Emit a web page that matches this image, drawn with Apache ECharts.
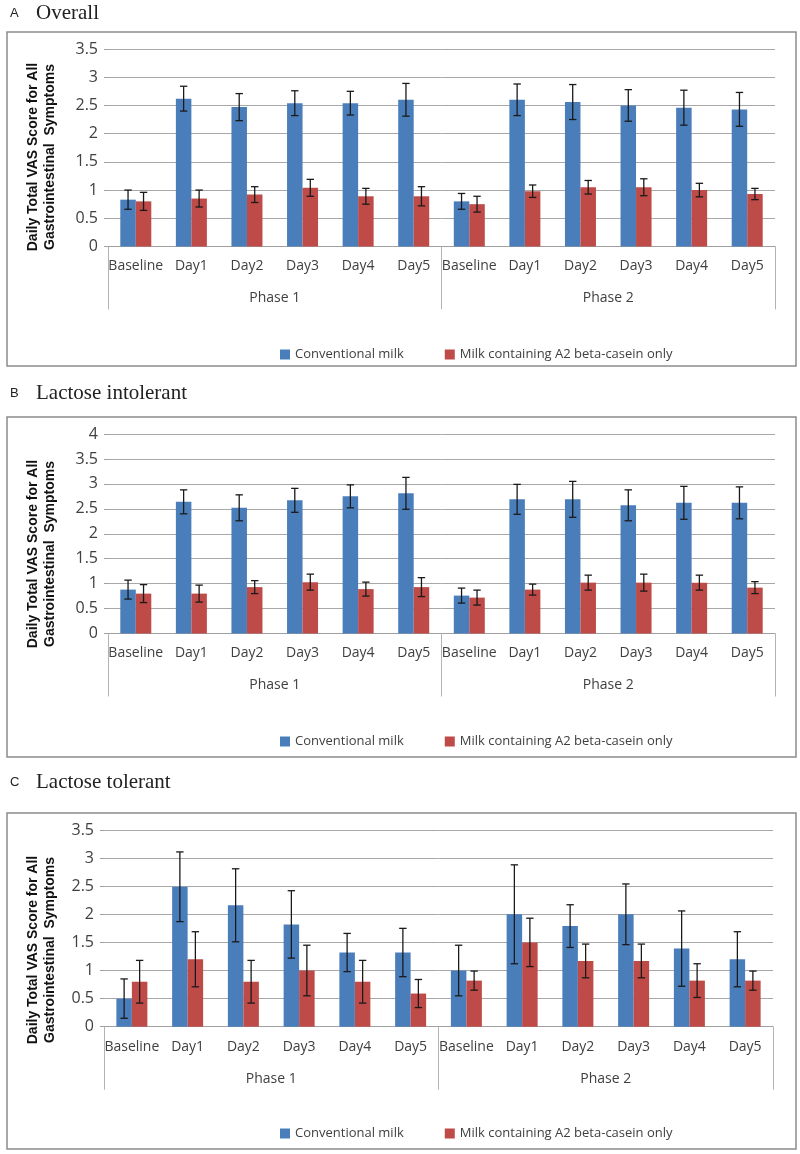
<!DOCTYPE html>
<html>
<head>
<meta charset="utf-8">
<script src="https://cdn.jsdelivr.net/npm/echarts@6/dist/echarts.min.js"></script>
<style>
  html, body { margin: 0; padding: 0; background: #ffffff; }
  #chart { width: 800px; height: 1154px; }
</style>
</head>
<body>
<div id="chart"></div>
<script>
// ---------- DATA ----------
const dayLabels = ['Baseline', 'Day1', 'Day2', 'Day3', 'Day4', 'Day5'];
const phases = ['Phase 1', 'Phase 2'];
const categories = phases.flatMap(() => dayLabels);
const seriesNames = ['Conventional milk', 'Milk containing A2 beta-casein only'];
const panelTitles = [['A', 'Overall'], ['B', 'Lactose intolerant'], ['C', 'Lactose tolerant']];
const yAxisName = 'Daily Total VAS Score for All\nGastrointestinal  Symptoms';
const yMax = [3.5, 4, 3.5];

// A: Overall
const overallConv    = [0.83, 2.62, 2.47, 2.54, 2.54, 2.60,  0.80, 2.60, 2.56, 2.50, 2.46, 2.43];
const overallConvErr = [0.17, 0.22, 0.24, 0.22, 0.21, 0.29,  0.14, 0.28, 0.31, 0.28, 0.31, 0.30];
const overallA2      = [0.80, 0.85, 0.92, 1.04, 0.89, 0.89,  0.75, 0.98, 1.05, 1.05, 1.00, 0.93];
const overallA2Err   = [0.16, 0.15, 0.14, 0.15, 0.14, 0.17,  0.14, 0.11, 0.12, 0.15, 0.12, 0.10];

// B: Lactose intolerant
const intolConv    = [0.88, 2.64, 2.52, 2.67, 2.75, 2.81,  0.76, 2.69, 2.69, 2.57, 2.62, 2.62];
const intolConvErr = [0.19, 0.24, 0.26, 0.24, 0.23, 0.32,  0.15, 0.30, 0.36, 0.31, 0.33, 0.32];
const intolA2      = [0.80, 0.80, 0.93, 1.03, 0.89, 0.93,  0.72, 0.88, 1.02, 1.02, 1.02, 0.92];
const intolA2Err   = [0.18, 0.17, 0.13, 0.16, 0.14, 0.19,  0.15, 0.11, 0.15, 0.17, 0.15, 0.12];

// C: Lactose tolerant
const tolConv    = [0.50, 2.49, 2.16, 1.82, 1.32, 1.32,  1.00, 2.00, 1.79, 2.00, 1.39, 1.20];
const tolConvErr = [0.35, 0.62, 0.65, 0.60, 0.34, 0.43,  0.45, 0.88, 0.38, 0.54, 0.67, 0.49];
const tolA2      = [0.80, 1.20, 0.80, 1.00, 0.80, 0.59,  0.82, 1.50, 1.17, 1.17, 0.82, 0.82];
const tolA2Err   = [0.38, 0.49, 0.38, 0.45, 0.38, 0.25,  0.17, 0.43, 0.30, 0.30, 0.30, 0.17];

const panels = [
  [overallConv, overallConvErr, overallA2, overallA2Err],
  [intolConv, intolConvErr, intolA2, intolA2Err],
  [tolConv, tolConvErr, tolA2, tolA2Err]
];

// ---------- STYLE / LAYOUT ----------
const FONT = "'Open Sans', sans-serif";
const COLORS = ['#4A7EBB', '#BE4B48'];
const BAR_W = 15.5;
const gridPos = [
  { left: 108, right: 25, top: 49,  height: 197.5 },
  { left: 108, right: 25, top: 434, height: 199.5 },
  { left: 104, right: 27, top: 830, height: 196.7 }
];
const boxes = [
  { y: 32,  h: 334 },
  { y: 417, h: 340 },
  { y: 813, h: 336 }
];
const titleY = [13, 393, 782];
const legendTop = [343, 730, 1122];
const yNameCenter = [157, 554, 950];

const chart = echarts.init(document.getElementById('chart'), null, { renderer: 'canvas' });

function errRender(sign) {
  return function (params, api) {
    const idx = api.value(0);
    const v = api.value(1);
    const e = api.value(2);
    const top = api.coord([idx, v + e]);
    const bot = api.coord([idx, v - e]);
    const x = top[0] + sign * BAR_W / 2;
    const cap = 3.7;
    const st = { stroke: '#1a1a1a', lineWidth: 1.3 };
    return {
      type: 'group',
      children: [
        { type: 'line', shape: { x1: x, y1: top[1], x2: x, y2: bot[1] }, style: st },
        { type: 'line', shape: { x1: x - cap, y1: top[1], x2: x + cap, y2: top[1] }, style: st },
        { type: 'line', shape: { x1: x - cap, y1: bot[1], x2: x + cap, y2: bot[1] }, style: st }
      ]
    };
  };
}

const grids = [], xAxes = [], yAxes = [], series = [], legends = [], graphics = [];

panels.forEach((p, i) => {
  grids.push(Object.assign({ containLabel: false }, gridPos[i]));
  xAxes.push({
    type: 'category', gridIndex: i, data: categories, position: 'bottom',
    axisTick: { show: false },
    axisLine: { lineStyle: { color: '#a0a0a0', width: 1 } },
    axisLabel: { interval: 0, margin: 13, fontSize: 14, color: '#404040', fontFamily: FONT }
  });
  xAxes.push({
    type: 'category', gridIndex: i, data: phases, position: 'bottom',
    axisLine: { show: false },
    axisTick: { show: true, length: 63, lineStyle: { color: '#b4b4b4', width: 1 } },
    axisLabel: { interval: 0, margin: 45, fontSize: 14, color: '#404040', fontFamily: FONT },
    splitLine: { show: false }
  });
  yAxes.push({
    type: 'value', gridIndex: i, min: 0, max: yMax[i], interval: 0.5,
    axisLine: { show: false },
    axisTick: { show: true, length: 4, lineStyle: { color: '#a0a0a0' } },
    splitLine: { lineStyle: { color: '#a8a8a8', width: 1 } },
    axisLabel: { fontSize: 16, color: '#404040', margin: 10, fontFamily: FONT }
  });
  [0, 1].forEach(s => {
    series.push({
      name: seriesNames[s], type: 'bar', xAxisIndex: 2 * i, yAxisIndex: i,
      data: p[2 * s], barWidth: BAR_W, barGap: '0%',
      itemStyle: { color: COLORS[s] }, z: 2
    });
  });
  [0, 1].forEach(s => {
    series.push({
      type: 'custom', xAxisIndex: 2 * i, yAxisIndex: i, z: 5,
      renderItem: errRender(s === 0 ? -1 : 1),
      encode: { x: 0, y: 1 },
      data: categories.map((c, k) => [k, p[2 * s][k], p[2 * s + 1][k]]),
      silent: true
    });
  });
  legends.push({
    data: seriesNames, left: 275, top: legendTop[i],
    icon: 'rect', itemWidth: 10, itemHeight: 10, itemGap: 41,
    textStyle: { fontSize: 13, color: '#404040', fontFamily: FONT, padding: [0, 0, 0, 0] },
    selectedMode: false
  });
  graphics.push({
    type: 'rect', shape: { x: 7, y: boxes[i].y, width: 789, height: boxes[i].h },
    style: { fill: 'none', stroke: '#8c8c8c', lineWidth: 1.5 }, z: -1
  });
  graphics.push({
    type: 'text', x: 10, y: titleY[i],
    style: { text: panelTitles[i][0], font: "13px 'Liberation Sans', sans-serif", fill: '#222', textVerticalAlign: 'middle' }
  });
  graphics.push({
    type: 'text', x: 36, y: titleY[i],
    style: { text: panelTitles[i][1], font: "21px 'Liberation Serif', serif", fill: '#222', textVerticalAlign: 'middle' }
  });
  graphics.push({
    type: 'text', x: 41.5, y: yNameCenter[i], rotation: Math.PI / 2,
    style: {
      text: yAxisName, font: "bold 14px 'Liberation Sans', sans-serif", fill: '#111',
      textAlign: 'center', textVerticalAlign: 'middle', lineHeight: 17
    }
  });
});

chart.setOption({
  animation: false,
  backgroundColor: '#ffffff',
  grid: grids,
  xAxis: xAxes,
  yAxis: yAxes,
  legend: legends,
  series: series,
  graphic: graphics
});
</script>
</body>
</html>
